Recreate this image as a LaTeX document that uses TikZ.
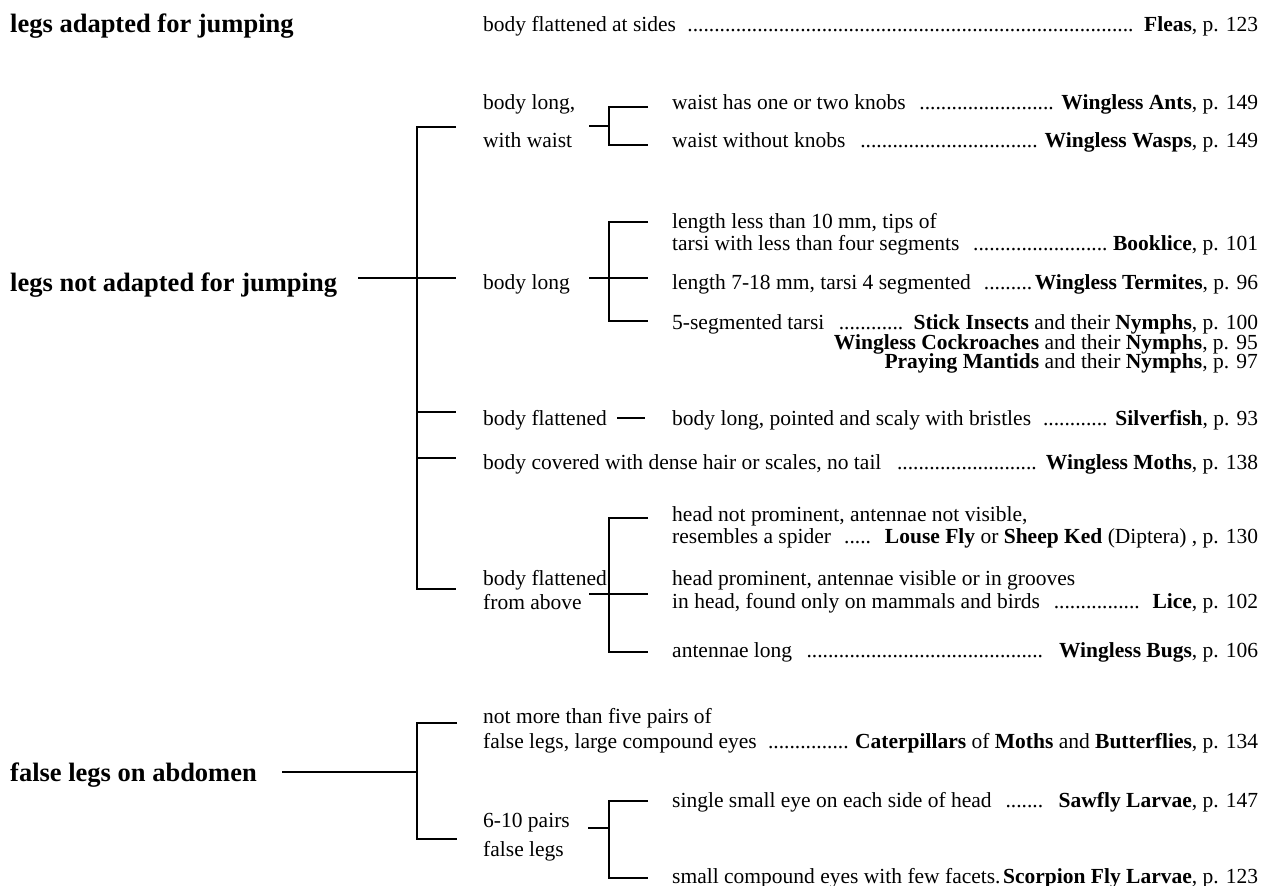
\documentclass[tikz,border=0pt]{standalone}
\usepackage{fontspec}
\setmainfont{Liberation Serif}
\newcommand\ldr{\leaders\hbox{.}\hfill}
\newcommand\wA[1]{\hbox to 586pt{#1}}
\newcommand\wB[1]{\hbox to 775pt{#1}}
\begin{document}
\begin{tikzpicture}[x=1pt,y=-1pt,
  br/.style={line width=2.8pt},
  thinln/.style={line width=1.1pt},
  head/.style={anchor=base west,inner sep=0pt,font=\fontsize{26.5}{30}\selectfont\bfseries},
  txt/.style={anchor=base west,inner sep=0pt,font=\fontsize{21.5}{24}\selectfont},
  rt/.style={anchor=base east,inner sep=0pt,font=\fontsize{21.5}{24}\selectfont}]
\useasboundingbox (0,0) rectangle (1261,886);
% ---------- jumping
\node[head] (h1) at (10,32) {legs adapted for jumping};
\node[txt] (fleas) at (483,31) {\wB{body flattened at sides\ \ \ldr\ \textbf{Fleas}, p. 123}};
% ---------- not adapted
\node[head] (h2) at (10,291) {legs not adapted for jumping};
\coordinate (h2e) at (358,278);
\coordinate (m2) at (417,278);
\coordinate (m2t) at (417,127);
\coordinate (m2b) at (417,589);
\coordinate (m2a) at (456,127);
\coordinate (m2c) at (456,278);
\coordinate (m2d0) at (417,412);
\coordinate (m2d) at (456,412);
\coordinate (m2e0) at (417,458);
\coordinate (m2e) at (456,458);
\coordinate (m2f) at (456,589);
\draw[br] (h2e) -- (m2);
\draw[br] (m2a) -- (m2t) -- (m2b) -- (m2f);
\draw[br] (m2) -- (m2c);
\draw[br] (m2d0) -- (m2d);
\draw[br] (m2e0) -- (m2e);
% waist
\node[txt] (bl1) at (483,109) {body long,};
\node[txt] (bl2) at (483,147) {with waist};
\coordinate (w0) at (589,126);
\coordinate (w1) at (609,126);
\coordinate (wt) at (609,107);
\coordinate (wb) at (609,145);
\coordinate (wta) at (648,107);
\coordinate (wba) at (648,145);
\draw[br] (w0) -- (w1);
\draw[br] (wta) -- (wt) -- (wb) -- (wba);
\node[txt] (ants) at (672,109) {\wA{waist has one or two knobs\ \ \ldr\ \textbf{Wingless Ants}, p. 149}};
\node[txt] (wasps) at (672,147) {\wA{waist without knobs\ \ \ldr\ \textbf{Wingless Wasps}, p. 149}};
% body long
\node[txt] (blg) at (483,289) {body long};
\coordinate (b0) at (589,278);
\coordinate (bt) at (609,222);
\coordinate (bb) at (609,321);
\coordinate (bta) at (648,222);
\coordinate (bma) at (648,278);
\coordinate (bba) at (648,321);
\draw[br] (b0) -- (bma);
\draw[br] (bta) -- (bt) -- (bb) -- (bba);
\node[txt] (book1) at (672,228) {length less than 10 mm, tips of};
\node[txt] (book2) at (672,250) {\wA{tarsi with less than four segments\ \ \ldr\ \textbf{Booklice}, p. 101}};
\node[txt] (term) at (672,289) {\wA{length 7-18 mm, tarsi 4 segmented\ \ \ldr\textbf{Wingless Termites}, p. 96}};
\node[txt] (stick) at (672,329) {\wA{5-segmented tarsi\ \ \ldr\ \textbf{Stick Insects} and their \textbf{Nymphs}, p. 100}};
\node[rt] (cock) at (1258,349) {\textbf{Wingless Cockroaches} and their \textbf{Nymphs}, p. 95};
\node[rt] (mant) at (1258,368) {\textbf{Praying Mantids} and their \textbf{Nymphs}, p. 97};
% body flattened
\node[txt] (bf) at (483,425) {body flattened};
\coordinate (f0) at (617,418);
\coordinate (f1) at (645,418);
\draw[thinln] (f0) -- (f1);
\node[txt] (silver) at (672,425) {\wA{body long, pointed and scaly with bristles\ \ \ldr\ \textbf{Silverfish}, p. 93}};
% body covered
\node[txt] (moths) at (483,469) {\wB{body covered with dense hair or scales, no tail\ \ \ldr\ \textbf{Wingless Moths}, p. 138}};
% flattened from above
\node[txt] (fa1) at (483,585) {body flattened};
\node[txt] (fa2) at (483,609) {from above};
\coordinate (a0) at (589,594);
\coordinate (at) at (609,518);
\coordinate (ab) at (609,652);
\coordinate (ata) at (648,518);
\coordinate (ama) at (648,594);
\coordinate (aba) at (648,652);
\draw[br] (a0) -- (ama);
\draw[br] (ata) -- (at) -- (ab) -- (aba);
\node[txt] (lf1) at (672,521) {head not prominent, antennae not visible,};
\node[txt] (lf2) at (672,543) {\wA{resembles a spider\ \ \ldr\ \ \textbf{Louse Fly} or \textbf{Sheep Ked} (Diptera) , p. 130}};
\node[txt] (li1) at (672,585) {head prominent, antennae visible or in grooves};
\node[txt] (li2) at (672,608) {\wA{in head, found only on mammals and birds\ \ \ldr\ \ \textbf{Lice}, p. 102}};
\node[txt] (bugs) at (672,657) {\wA{antennae long\ \ \ldr\ \ \textbf{Wingless Bugs}, p. 106}};
% ---------- false legs
\node[head] (h3) at (10,781) {false legs on abdomen};
\coordinate (h3e) at (282,772);
\coordinate (m3) at (417,772);
\coordinate (m3t) at (417,723);
\coordinate (m3b) at (417,839);
\coordinate (m3ta) at (457,723);
\coordinate (m3ba) at (457,839);
\draw[br] (h3e) -- (m3);
\draw[br] (m3ta) -- (m3t) -- (m3b) -- (m3ba);
\node[txt] (cat1) at (483,723) {not more than five pairs of};
\node[txt] (cat2) at (483,748) {\wB{false legs, large compound eyes\ \ \ldr\ \textbf{Caterpillars} of \textbf{Moths} and \textbf{Butterflies}, p. 134}};
\node[txt] (p1) at (483,827) {6-10 pairs};
\node[txt] (p2) at (483,856) {false legs};
\coordinate (s0) at (588,828);
\coordinate (st) at (609,801);
\coordinate (s1) at (609,828);
\coordinate (sb) at (609,878);
\coordinate (sta) at (648,801);
\coordinate (sba) at (648,878);
\draw[br] (s0) -- (s1);
\draw[br] (sta) -- (st) -- (sb) -- (sba);
\node[txt] (saw) at (672,807) {\wA{single small eye on each side of head\ \ \ldr\ \ \textbf{Sawfly Larvae}, p. 147}};
\node[txt] (scorp) at (672,883) {\wA{small compound eyes with few facets.\hfill\textbf{Scorpion Fly Larvae}, p. 123}};
\end{tikzpicture}
\end{document}
